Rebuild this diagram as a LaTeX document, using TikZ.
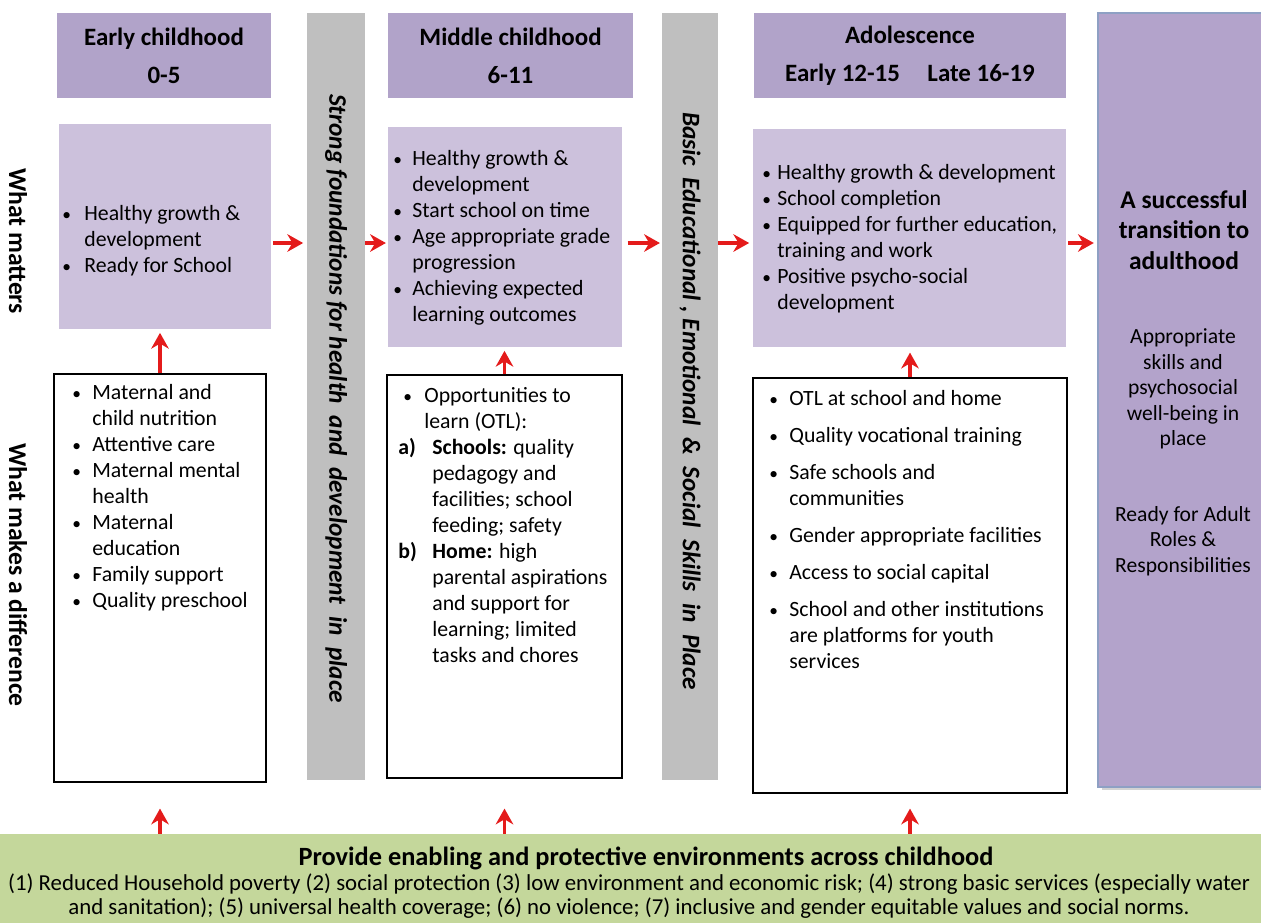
\documentclass[tikz,border=0pt]{standalone}
\usepackage{fontspec}
\setmainfont{Carlito}
\usetikzlibrary{arrows.meta, positioning, calc, shadows}

% bullet column, width set per list through \bw
\def\bw{0.4cm}
\newcommand{\bul}{\makebox[\bw][l]{\scalebox{0.8}{\textbullet}}}
\newcommand{\ind}{\hspace*{\bw}}

\begin{document}
\begin{tikzpicture}[
    x=0.02cm, y=-0.02cm,
    every node/.style={inner sep=0pt},
    hdbox/.style={fill=hdpurple, align=center, font=\bfseries\fontsize{14.2}{21.5}\selectfont},
    litebox/.style={fill=boxlilac},
    whitebox/.style={draw=black, line width=0.7pt, fill=white},
    greybar/.style={fill=bargray},
    listtext/.style={anchor=west, align=left, font=\fontsize{12.4}{14.8}\selectfont\def\bw{#1}},
    sidelabel/.style={rotate=-90, font=\bfseries\fontsize{14.6}{16}\selectfont},
    bartext/.style={rotate=-90, font=\bfseries\itshape\fontsize{14.4}{16}\selectfont},
    redarrow/.style={draw=arrowred, line width=1.9pt, -{Stealth[length=9pt, width=10pt]}},
]

\definecolor{hdpurple}{HTML}{B1A3C9}    % age headers
\definecolor{boxlilac}{HTML}{CCC1DC}    % what matters
\definecolor{bargray}{HTML}{BFBFBF}
\definecolor{adultpurple}{HTML}{B3A3CB}
\definecolor{adultedge}{HTML}{8EA0C4}
\definecolor{envgreen}{HTML}{C4D79B}
\definecolor{arrowred}{HTML}{E41B1B}

\useasboundingbox (0,0) rectangle (1261,923);

% ---------------------------------------------------------------- headers
\node[hdbox, minimum width=4.28cm, minimum height=1.70cm] (early) at (164,55.5)
    {Early childhood\\0-5};
\node[hdbox, minimum width=4.90cm, minimum height=1.70cm] (middle) at (510.5,55.5)
    {Middle childhood\\6-11};
\node[hdbox, minimum width=6.24cm, minimum height=1.70cm] (adol) at (910,55.5)
    {Adolescence\\Early 12-15\hspace{1.1em}Late 16-19};

% ---------------------------------------------------------------- grey bars
\node[greybar, minimum width=1.16cm, minimum height=15.34cm] (found) at (336,396.5) {};
\node[greybar, minimum width=1.12cm, minimum height=15.34cm] (skills) at (690,396.5) {};
\node[bartext] (foundtxt) at (336,398.5)
    {Strong foundations for health\ \ and\ \ development\ \ in\ \ place};
\node[bartext] (skilltxt) at (690,401)
    {Basic\ \ Educational\ , Emotional\ \ \&\ \ Social\ \ Skills\ \ in\ \ Place};

% ---------------------------------------------------------------- adulthood
\node[fill=adultpurple, draw=adultedge, line width=0.8pt,
      drop shadow={opacity=0.35, shadow xshift=2pt, shadow yshift=-2pt},
      minimum width=3.40cm, minimum height=15.48cm] (adult) at (1183,400) {};
\node[font=\bfseries\fontsize{14.5}{17.2}\selectfont, align=center] (succ) at (1184,230)
    {A successful\\transition to\\adulthood};
\node[font=\fontsize{12.3}{14.5}\selectfont, align=center] (wellb) at (1183,389)
    {Appropriate\\skills and\\psychosocial\\well-being in\\place};
\node[font=\fontsize{12.3}{14.5}\selectfont, align=center] (roles) at (1183,541)
    {Ready for Adult\\Roles \&\\Responsibilities};

% ---------------------------------------------------------------- what matters
\node[litebox, minimum width=4.24cm, minimum height=4.10cm] (m1) at (165,226.5) {};
\node[litebox, minimum width=4.68cm, minimum height=4.40cm] (m2) at (505,237) {};
\node[litebox, minimum width=6.26cm, minimum height=4.36cm] (m3) at (909.5,238) {};

\node[listtext=0.44cm] (m1txt) at (62,241)
    {\bul Healthy growth \&\\\ind development\\\bul Ready for School};
\node[listtext=0.38cm] (m2txt) at (393,238)
    {\bul Healthy growth \&\\\ind development\\\bul Start school on time\\
     \bul Age appropriate grade\\\ind progression\\
     \bul Achieving expected\\\ind learning outcomes};
\node[listtext=0.30cm] (m3txt) at (762,239)
    {\bul Healthy growth \& development\\\bul School completion\\
     \bul Equipped for further education,\\\ind training and work\\
     \bul Positive psycho-social\\\ind development};

% ---------------------------------------------------------------- what makes a difference
\node[whitebox, minimum width=4.24cm, minimum height=8.16cm] (d1) at (160,578) {};
\node[whitebox, minimum width=4.70cm, minimum height=8.06cm] (d2) at (504.5,576.5) {};
\node[whitebox, minimum width=6.28cm, minimum height=8.30cm] (d3) at (910,585.5) {};

\node[listtext=0.40cm] (d1txt) at (72,498)
    {\bul Maternal and\\\ind child nutrition\\\bul Attentive care\\
     \bul Maternal mental\\\ind health\\\bul Maternal\\\ind education\\
     \bul Family support\\\bul Quality preschool};
\node[listtext=0.68cm] (d2txt) at (398,525)
    {\hspace*{0.1cm}\makebox[0.42cm][l]{\scalebox{0.8}{\textbullet}}Opportunities to\\
     \hspace*{0.52cm}learn (OTL):\\
     \makebox[0.68cm][l]{\textbf{a)}}\textbf{Schools:} quality\\
     \ind pedagogy and\\\ind facilities; school\\\ind feeding; safety\\
     \makebox[0.68cm][l]{\textbf{b)}}\textbf{Home:} high\\
     \ind parental aspirations\\\ind and support for\\
     \ind learning; limited\\\ind tasks and chores};
\node[listtext=0.40cm] (d3txt) at (769,529.5)
    {\bul OTL at school and home\\[0.22cm]
     \bul Quality vocational training\\[0.22cm]
     \bul Safe schools and\\\ind communities\\[0.22cm]
     \bul Gender appropriate facilities\\[0.22cm]
     \bul Access to social capital\\[0.22cm]
     \bul School and other institutions\\\ind are platforms for youth\\\ind services};

% ---------------------------------------------------------------- row labels
\node[sidelabel] (matters) at (18,241) {What matters};
\node[sidelabel] (makes) at (18,575) {What makes a difference};

% ---------------------------------------------------------------- environments
\node[fill=envgreen, minimum width=25.22cm, minimum height=1.78cm] (env) at (630.5,878.5) {};
\node[font=\bfseries\fontsize{15}{16}\selectfont] (envtitle) at (646,858)
    {Provide enabling and protective environments across childhood};
\node[font=\fontsize{13}{13.6}\selectfont, align=center] (envbody) at (629,896)
    {(1) Reduced Household poverty (2) social protection (3) low environment and economic risk; (4) strong basic services (especially water\\
     and sanitation); (5) universal health coverage; (6) no violence; (7) inclusive and gender equitable values and social norms.};

% ---------------------------------------------------------------- arrows
\coordinate (row) at (0,243);
\draw[redarrow, shorten <=1pt, shorten >=2pt] (m1.east |- row) -- (found.west |- row);
\draw[redarrow, shorten >=1pt] (found.east |- row) -- (m2.west |- row);
\draw[redarrow, shorten <=3pt, shorten >=1pt] (m2.east |- row) -- (skills.west |- row);
\draw[redarrow, shorten >=2pt] (skills.east |- row) -- (m3.west |- row);
\draw[redarrow, shorten <=1pt, shorten >=2pt] (m3.east |- row) -- (adult.west |- row);

\draw[redarrow, shorten >=2pt] (d1.north) -- (d1.north |- m1.south);
\draw[redarrow, shorten >=2pt] (d2.north) -- (d2.north |- m2.south);
\draw[redarrow, shorten >=3pt] (d3.north) -- (d3.north |- m3.south);

\draw[redarrow, shorten >=0.52cm] (d1.south |- env.north) -- (d1.south);
\draw[redarrow, shorten >=0.60cm] (d2.south |- env.north) -- (d2.south);
\draw[redarrow, shorten >=0.30cm] (d3.south |- env.north) -- (d3.south);

\end{tikzpicture}
\end{document}
